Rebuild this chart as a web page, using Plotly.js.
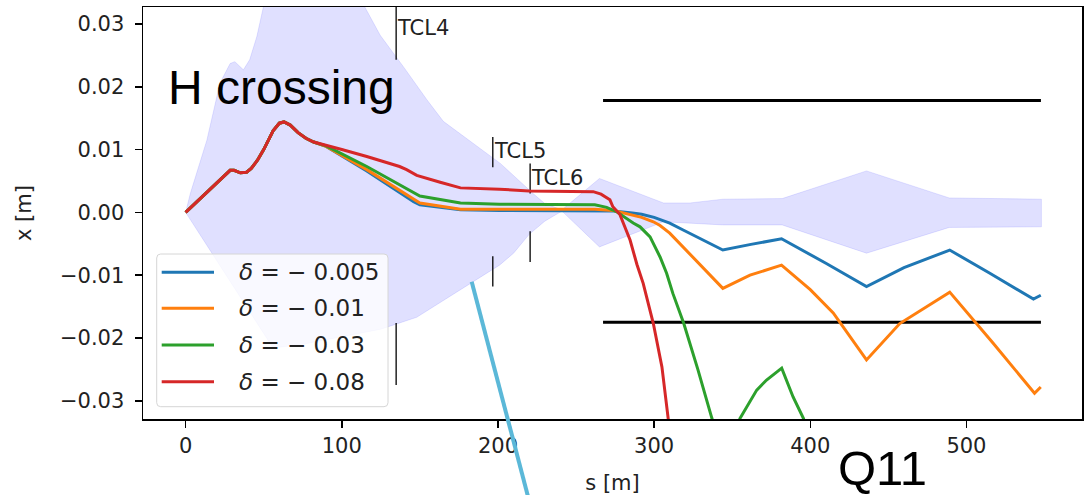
<!DOCTYPE html>
<html>
<head>
<meta charset="utf-8">
<script src="https://cdn.plot.ly/plotly-3.0.1.min.js"></script>
<style>
  html, body { margin: 0; padding: 0; background: #ffffff; }
  #chart { width: 1087px; height: 495px; }
</style>
</head>
<body>
<div id="chart"></div>
<script>
// Horizontal orbit x [m] along s [m] for four momentum offsets.
const deltas = [-0.005, -0.01, -0.03, -0.08];
const colors = ['#1f77b4', '#ff7f0e', '#2ca02c', '#d62728'];

const sBlue = [0, 14, 28.5, 31, 35, 39, 42, 46, 50, 56, 60, 63, 67, 72, 77, 82, 90, 116, 146, 150, 176, 201, 230, 262, 274, 286, 292, 300, 310, 318.6, 330, 344, 362, 381.6, 410, 436, 460, 489.3, 515, 542.9, 547.6];
const xBlue = [0, 0.0033, 0.0067, 0.0067, 0.0063, 0.0064, 0.0070, 0.0083, 0.0100, 0.0130, 0.0142, 0.0144, 0.0139, 0.0127, 0.0118, 0.0112, 0.0105, 0.0066, 0.0017, 0.0012, 0.0004, 0.0003, 0.0003, 0.0003, 0.0002, -0.0001, -0.0003, -0.0008, -0.0017, -0.0028, -0.0042, -0.0060, -0.0051, -0.0042, -0.0081, -0.0118, -0.0088, -0.0060, -0.0097, -0.0138, -0.0132];

const sOrange = [0, 14, 28.5, 31, 35, 39, 42, 46, 50, 56, 60, 63, 67, 72, 77, 82, 90, 116, 146, 150, 176, 201, 262, 274, 286.6, 292, 299.5, 303.8, 310, 318.6, 329.4, 344, 361.4, 381.6, 400, 414.7, 436, 457.3, 489.3, 517, 543.6, 547.6];
const xOrange = [0, 0.0033, 0.0067, 0.0067, 0.0063, 0.0064, 0.0070, 0.0083, 0.0100, 0.0130, 0.0142, 0.0144, 0.0139, 0.0127, 0.0118, 0.0112, 0.0105, 0.0068, 0.0020, 0.0015, 0.0005, 0.0005, 0.0005, 0.0003, -0.0004, -0.0008, -0.0015, -0.0021, -0.0033, -0.0055, -0.0084, -0.0121, -0.0100, -0.0084, -0.0123, -0.0160, -0.0235, -0.0177, -0.0127, -0.0208, -0.0288, -0.0278];

const sGreen = [0, 14, 28.5, 31, 35, 39, 42, 46, 50, 56, 60, 63, 67, 72, 77, 82, 90, 116, 146, 150, 176, 201, 262, 269.6, 276, 286.6, 291, 297.4, 303.8, 308, 312, 319, 328, 337, 346, 355, 365.7, 372, 381.7, 389, 395.6, 410];
const xGreen = [0, 0.0033, 0.0067, 0.0067, 0.0063, 0.0064, 0.0070, 0.0083, 0.0100, 0.0130, 0.0142, 0.0144, 0.0139, 0.0127, 0.0118, 0.0112, 0.0106, 0.0073, 0.0031, 0.0026, 0.0015, 0.0013, 0.0012, 0.0008, 0.0001, -0.0017, -0.0023, -0.0039, -0.0071, -0.0097, -0.0129, -0.0177, -0.0250, -0.0328, -0.0390, -0.0328, -0.0283, -0.0267, -0.0248, -0.0294, -0.0328, -0.0450];

const sRed = [0, 14, 28.5, 31, 35, 39, 42, 46, 50, 56, 60, 63, 67, 72, 77, 82, 90, 100, 116, 137, 141.5, 148, 163, 176, 201, 220, 261, 266, 271.7, 273.6, 278, 280, 284.6, 289, 293, 299.5, 305, 309, 315];
const xRed = [0, 0.0033, 0.0067, 0.0067, 0.0063, 0.0064, 0.0070, 0.0083, 0.0100, 0.0130, 0.0142, 0.0144, 0.0139, 0.0127, 0.0118, 0.0112, 0.0107, 0.0100, 0.0089, 0.0073, 0.0068, 0.0059, 0.0048, 0.0039, 0.0037, 0.0034, 0.0033, 0.0029, 0.0020, 0.0009, -0.0003, -0.0015, -0.0044, -0.0083, -0.0113, -0.0177, -0.0246, -0.0328, -0.0450];

// Beam envelope: upper and lower edges
const sEnvUp = [0, 3, 13.6, 22, 28.5, 31.5, 37, 41, 45.6, 49.6, 55, 70, 90, 105, 113, 124.6, 140, 154.6, 165, 184, 201.5, 222.5, 230, 241, 265, 306, 323, 344, 382, 436, 489, 548];
const xEnvUp = [0, 0.0030, 0.0115, 0.0206, 0.0237, 0.0240, 0.0227, 0.0243, 0.0280, 0.0325, 0.0400, 0.0480, 0.0500, 0.0420, 0.0335, 0.0282, 0.0230, 0.0179, 0.0145, 0.0110, 0.0078, 0.0030, 0.0014, 0.0004, 0.0054, 0.0015, 0.0015, 0.0021, 0.0022, 0.0066, 0.0023, 0.0021];
const sEnvLo = [0, 11.5, 56, 75, 99, 125, 148, 175, 201, 210, 220, 230, 241, 265, 306, 344, 382, 436, 489, 548];
const xEnvLo = [0, -0.0044, -0.0216, -0.0210, -0.0199, -0.0186, -0.0167, -0.0125, -0.0084, -0.0065, -0.0035, -0.0014, 0.0002, -0.0055, -0.0015, -0.0020, -0.0020, -0.0065, -0.0024, -0.0023];

// Collimators: position and jaw segments [from, to]
const collNames = ['TCL4', 'TCL5', 'TCL6'];
const collS = [134.8, 196.7, 220.6];
const collJawTop = [[0.0243, 0.0400], [0.0072, 0.0120], [0.0030, 0.0078]];
const collJawBot = [[-0.0176, -0.0275], [-0.0070, -0.0118], [-0.0030, -0.0079]];
const collLabelY = [0.0294, 0.0098, 0.0055];

// Aperture limits downstream
const apertureS = [267.3, 547.7];
const apertureTop = 0.0178;
const apertureBot = -0.0175;

// Plot-area pixel box, used to place overlay items
const PL = 143, PR = 1082, PT = 7, PB = 419;
const px = p => (p - PL) / (PR - PL);
const py = p => (PB - p) / (PB - PT);

const traces = [];

// envelope polygon
traces.push({
  x: sEnvUp.concat(sEnvLo.slice().reverse()),
  y: xEnvUp.concat(xEnvLo.slice().reverse()),
  mode: 'lines', fill: 'toself',
  fillcolor: 'rgba(0,0,255,0.12)',
  line: {color: 'rgba(0,0,255,0.10)', width: 1},
  hoverinfo: 'skip', showlegend: false
});

// aperture lines
[apertureTop, apertureBot].forEach(v => {
  traces.push({
    x: apertureS, y: [v, v], mode: 'lines',
    line: {color: '#000000', width: 3}, showlegend: false, hoverinfo: 'skip'
  });
});

// collimator jaws
const jawX = [], jawY = [];
collS.forEach((s, i) => {
  jawX.push(s, s, null, s, s, null);
  jawY.push(collJawTop[i][0], collJawTop[i][1], null, collJawBot[i][0], collJawBot[i][1], null);
});
traces.push({
  x: jawX, y: jawY, mode: 'lines', connectgaps: false,
  line: {color: '#000000', width: 1.3}, showlegend: false, hoverinfo: 'skip'
});

const seriesS = [sBlue, sOrange, sGreen, sRed];
const seriesX = [xBlue, xOrange, xGreen, xRed];
const labels = deltas.map(d => '<i>δ</i> = − ' + Math.abs(d));
seriesS.forEach((s, i) => {
  traces.push({
    x: s, y: seriesX[i], mode: 'lines', name: labels[i],
    line: {color: colors[i], width: 3}, showlegend: false
  });
});

const tickFont = {family: 'DejaVu Sans', size: 21, color: '#222222'};

const annotations = [];
collNames.forEach((n, i) => {
  annotations.push({
    x: collS[i], y: collLabelY[i], xref: 'x', yref: 'y',
    text: n, showarrow: false, xanchor: 'left', yanchor: 'middle',
    xshift: -1, font: {family: 'DejaVu Sans', size: 21, color: '#222222'}
  });
});
annotations.push({
  x: px(166), y: py(87), xref: 'paper', yref: 'paper', text: 'H crossing',
  showarrow: false, xanchor: 'left', yanchor: 'middle',
  font: {family: 'Liberation Sans', size: 48, color: '#000000'}
});
annotations.push({
  x: px(836), y: py(468), xref: 'paper', yref: 'paper', text: 'Q11',
  showarrow: false, xanchor: 'left', yanchor: 'middle',
  font: {family: 'Liberation Sans', size: 49, color: '#000000'}
});

// legend: box, line samples and labels
const shapes = [];
const lx0 = px(156.7), lx1 = px(388), ly0 = py(406.7), ly1 = py(254);
const rx = 4 / (PR - PL), ry = 4 / (PB - PT);
shapes.push({
  type: 'path', xref: 'paper', yref: 'paper', layer: 'above',
  path: `M ${lx0 + rx} ${ly0} L ${lx1 - rx} ${ly0} Q ${lx1} ${ly0} ${lx1} ${ly0 + ry} L ${lx1} ${ly1 - ry} Q ${lx1} ${ly1} ${lx1 - rx} ${ly1} L ${lx0 + rx} ${ly1} Q ${lx0} ${ly1} ${lx0} ${ly1 - ry} L ${lx0} ${ly0 + ry} Q ${lx0} ${ly0} ${lx0 + rx} ${ly0} Z`,
  fillcolor: 'rgba(255,255,255,0.8)', line: {color: '#d6d6d6', width: 1}
});
const rowY = [272.3, 308.3, 345, 381.7];
labels.forEach((t, i) => {
  shapes.push({
    type: 'line', xref: 'paper', yref: 'paper', layer: 'above',
    x0: px(161.7), x1: px(214), y0: py(rowY[i]), y1: py(rowY[i]),
    line: {color: colors[i], width: 3}
  });
  annotations.push({
    x: px(237), y: py(rowY[i]), xref: 'paper', yref: 'paper', text: t,
    showarrow: false, xanchor: 'left', yanchor: 'middle',
    font: {family: 'DejaVu Sans', size: 23, color: '#222222'}
  });
});

// pointer line drawn over the figure
shapes.push({
  type: 'line', xref: 'paper', yref: 'paper', layer: 'above',
  x0: px(471.7), y0: py(281.7), x1: px(528.4), y1: py(498),
  line: {color: '#5bb8d8', width: 4}
});

const layout = {
  width: 1087, height: 495,
  margin: {l: PL, r: 1087 - PR, t: PT, b: 495 - PB},
  paper_bgcolor: '#ffffff', plot_bgcolor: '#ffffff',
  showlegend: false,
  xaxis: {
    range: [-27.3, 574], tickvals: [0, 100, 200, 300, 400, 500],
    ticks: 'outside', ticklen: 7, tickwidth: 1.5, tickcolor: '#000000',
    showline: true, linewidth: 1.5, linecolor: '#000000', mirror: true,
    showgrid: false, zeroline: false, tickfont: tickFont,
    title: {text: 's [m]', font: tickFont, standoff: 20}
  },
  yaxis: {
    range: [-0.0329, 0.0327], tickvals: [-0.03, -0.02, -0.01, 0, 0.01, 0.02, 0.03],
    tickformat: '.2f', ticklabelstandoff: 6,
    ticks: 'outside', ticklen: 7, tickwidth: 1.5, tickcolor: '#000000',
    showline: true, linewidth: 1.5, linecolor: '#000000', mirror: true,
    showgrid: false, zeroline: false, tickfont: tickFont,
    title: {text: 'x [m]', font: tickFont, standoff: 22}
  },
  annotations: annotations,
  shapes: shapes
};

Plotly.newPlot('chart', traces, layout, {displayModeBar: false, staticPlot: true});
</script>
</body>
</html>
